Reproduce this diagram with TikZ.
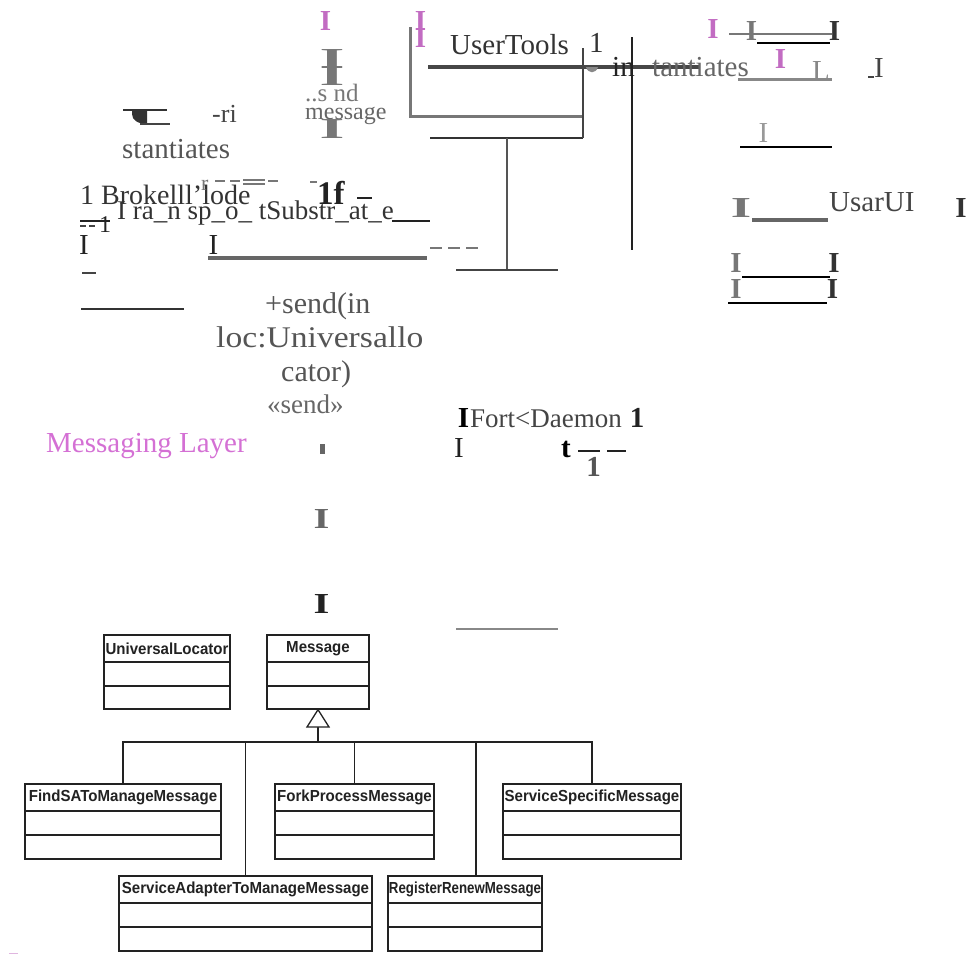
\documentclass[tikz,border=0pt]{standalone}
\usepackage{fontspec}
\setmainfont{Liberation Serif}
\newfontfamily\umlfont{Liberation Sans}
\definecolor{pinkA}{HTML}{C26CC2}
\definecolor{pinkB}{HTML}{D470D4}
\definecolor{cdd}{HTML}{222222}
\definecolor{cd3}{HTML}{333333}
\definecolor{cd4}{HTML}{444444}
\definecolor{cd5}{HTML}{555555}
\definecolor{cd6}{HTML}{666666}
\definecolor{cd7}{HTML}{777777}
\definecolor{cd8}{HTML}{888888}
\definecolor{cd9}{HTML}{999999}
\tikzset{
  tx/.style={inner sep=0pt, anchor=base west, font=\fontsize{29}{30}\selectfont},
  bI/.style={inner sep=0pt, anchor=base, font=\fontsize{29}{30}\selectfont\bfseries},
  rI/.style={inner sep=0pt, anchor=base, font=\fontsize{29}{30}\selectfont},
  umlcls/.style={draw=cdd, line width=1.3pt, inner sep=0pt, fill=white},
  umltitle/.style={inner sep=0pt, font=\umlfont\fontsize{16}{16}\selectfont\bfseries, text=cdd},
  umlline/.style={draw=cdd, line width=1.3pt},
  thinl/.style={line width=1.5pt},
}
\newcommand{\umlbox}[7][0.94]{%
  \pgfmathsetmacro{\bw}{#5-#3}%
  \pgfmathsetmacro{\bh}{#6-#4}%
  \node[umlcls, minimum width=\bw pt, minimum height=\bh pt] (#2) at ({(#3+#5)/2},{(#4+#6)/2}) {};
  \node[umltitle, xscale=#1] (#2-t) at ({(#3+#5)/2},{#4+13.5}) {#7};
  \draw[umlline] (#3,#4+27) -- (#5,#4+27);
  \draw[umlline] (#3,#4+51) -- (#5,#4+51);
}
\begin{document}
\begin{tikzpicture}[x=1pt,y=-1pt]
\useasboundingbox (0,0) rectangle (973,954);

% ---------- upper region: lines ----------
\draw[cd7, line width=3pt] (410,27) -- (410,116.5) -- (583,116.5);
\draw[cd3, thinl] (430,138) -- (583,138);
\draw[cd4, thinl] (583,48) -- (583,138);
\draw[cd3!90, line width=4pt] (428,67) -- (700,67);
\draw[cd5, thinl] (507,138) -- (507,270);
\draw[cd4, thinl] (456,270) -- (558,270);
\draw[cdd, thinl] (632,37) -- (632,250);
\draw[cd6, line width=4pt] (208,258) -- (427,258);
\draw[cd7, line width=2pt, dash pattern=on 12pt off 6pt] (430,248) -- (483,248);
\draw[cdd, thinl] (392,221) -- (430,221);
\draw[cd3, thinl] (81,309) -- (184,309);
\draw[cd4, thinl] (82,273) -- (96,273);
\draw[cd7, thinl] (729,34) -- (832,34);
\draw[black, line width=2pt] (757,43) -- (830,43);
\draw[cd8, line width=3pt] (738,79) -- (832,79);
\draw[black, line width=2pt] (740,147) -- (832,147);
\draw[cd6, line width=4pt] (752,220) -- (828,220);
\draw[black, line width=2pt] (742,277) -- (830,277);
\draw[black, line width=2pt] (728,303) -- (827,303);
\draw[cd8, line width=2pt] (456,629) -- (558,629);
% fragments near "Transport"
\draw[cd7, thinl] (215,181) -- (225,181) (230,181) -- (240,181) (243,180) -- (265,180) (243,184) -- (265,184) (268,181) -- (278,181) (310,182) -- (317,182);
\draw[cdd, thinl] (357,198) -- (372,198);
\draw[cdd, thinl] (80,221) -- (110,221);
\draw[cd4, thinl] (80,226) -- (86,226) (89,226) -- (95,226);
% arrow-like blob
\fill[cd3] (132,110) -- (147,110) -- (147,124) .. controls (138,124) and (132,120) .. (132,114) -- cycle;
\draw[cd3, thinl] (123,110) -- (167,110);
\draw[cd4, thinl] (140,124) -- (170,124);
% small semicircle
\fill[cd8] (586,67) .. controls (588,74) and (596,74) .. (598,67) -- cycle;
% small gray mark
\fill[cd6] (320,444) rectangle (325,454);
% dashes by Fort<Daemon
\draw[cdd, line width=2pt] (578,451) -- (600,451) (607,451) -- (626,451);
% tiny pink mark
\draw[pinkA!50, line width=1pt] (9,953) -- (18,953);

% ---------- upper region: texts ----------
\node[tx, text=cd3] (usertools) at (450,54) {UserTools};
\node[tx, text=cd3] (one1) at (589,52) {1};
\node[tx, text=cdd] (inA) at (612,76) {in};
\node[tx, text=cd6] (tant) at (652,76) {tantiates};
\node[tx, text=cd4, font=\fontsize{26}{28}\selectfont] (ri) at (212,122) {-ri};
\node[tx, text=cd5] (stant) at (122,158) {stantiates};
\node[tx, text=cd7, font=\fontsize{25}{26}\selectfont] (snd) at (305,101) {..s nd};
\node[tx, text=cd6, font=\fontsize{24}{26}\selectfont] (msg) at (305,119) {message};
\node[tx, text=cd3, font=\fontsize{28}{29}\selectfont] (broke) at (80,204) {1 Brokelll'lode};
\node[tx, text=cd7, font=\fontsize{22}{24}\selectfont] (rr) at (201,190) {r};
\node[tx, text=cdd, font=\fontsize{33}{34}\selectfont\bfseries] (onef) at (317,204) {1f};
\node[tx, text=cd3, font=\fontsize{27}{28}\selectfont] (trans) at (117,219) {I ra\_n sp\_o\_ tSubstr\_at\_e};
\node[tx, text=cdd, font=\fontsize{24}{26}\selectfont] (dd1) at (99,232) {1};
\node[rI, text=cdd] (ia) at (84,254) {I};
\node[rI, text=cdd] (ib) at (213.5,254) {I};
\node[tx, text=cd5, font=\fontsize{30}{32}\selectfont] (send1) at (265,313) {+send(in};
\node[tx, text=cd5, font=\fontsize{30}{32}\selectfont, xscale=1.12] (send2) at (216,347) {loc:Universallo};
\node[tx, text=cd5, font=\fontsize{30}{32}\selectfont] (send3) at (281,381) {cator)};
\node[tx, text=cd6, font=\fontsize{27}{28}\selectfont] (send4) at (267,413) {«send»};
\node[tx, text=pinkB] (msglayer) at (46,452) {Messaging Layer};
\node[bI, text=black] (fi) at (463.5,427) {I};
\node[tx, text=cd4, font=\fontsize{27}{28}\selectfont] (fort) at (470,427) {Fort<Daemon};
\node[bI, text=cdd] (f1) at (637,427) {1};
\node[rI, text=cdd] (fI2) at (459,457) {I};
\node[bI, text=black] (ft) at (566,457) {t};
\node[bI, text=cd5] (f1b) at (593.5,476) {1};
\node[tx, text=cd4] (usarui) at (829,211) {UsarUI};

% glyph-like I marks
\node[bI, text=pinkA] (p1) at (325.5,30) {I};
\node[bI, text=pinkA] (p2a) at (420.5,30) {I};
\node[bI, text=pinkA] (p2b) at (420.5,47) {I};
\node[bI, text=cd7, xscale=2.2] (g1a) at (332,68) {I};
\node[bI, text=cd7, xscale=2.2] (g1b) at (332,85) {I};
\node[bI, text=cd7, xscale=2.2] (g2) at (332,138) {I};
\node[bI, text=pinkA] (p3) at (713,38) {I};
\node[bI, text=cd7] (g3) at (751.5,40) {I};
\node[bI, text=cd3] (k3) at (834.5,40) {I};
\node[bI, text=pinkA] (p4) at (780.5,68) {I};
\node[rI, text=cd8] (gL) at (821,80) {L};
\node[rI, text=cd4] (uI) at (879,77) {I};
\draw[cd4, thinl] (868,77) -- (874,77);
\node[rI, text=cd9] (g4) at (763.5,142) {I};
\node[bI, text=cd7, xscale=1.8] (g5) at (741,217) {I};
\node[bI, text=cd3] (k5) at (961,217) {I};
\node[bI, text=cd7] (g6) at (736,272) {I};
\node[bI, text=cd3] (k6) at (834,272) {I};
\node[bI, text=cd7] (g7) at (736,298) {I};
\node[bI, text=cd3] (k7) at (832.5,298) {I};
\node[bI, text=cd6, xscale=1.4] (g8) at (321.5,528) {I};
\node[bI, text=cdd, xscale=1.4] (k8) at (321.5,613) {I};

% ---------- lower region: UML ----------
\umlbox{UL}{104}{635}{230}{709}{UniversalLocator}
\umlbox{MSG}{267}{635}{369}{709}{Message}
\umlbox{FSA}{25}{784}{221}{859}{FindSAToManageMessage}
\umlbox{FPM}{275}{784}{434}{859}{ForkProcessMessage}
\umlbox{SSM}{503}{784}{681}{859}{ServiceSpecificMessage}
\umlbox{SAM}{119}{876}{372}{951}{ServiceAdapterToManageMessage}
\umlbox[0.83]{RRM}{388}{876}{542}{951}{RegisterRenewMessage}

\coordinate (tri) at (318,727);
\coordinate (bus) at (318,742);
\draw[cdd, line width=2pt] (tri) -- (bus);
\draw[cdd, line width=1.3pt, fill=white] (MSG.south) -- (307,727) -- (329,727) -- cycle;
\draw[cdd, line width=1.3pt] (FSA.north) |- (bus);
\draw[cdd, line width=1.3pt] (SAM.north) |- (bus);
\draw[cdd, line width=1.3pt] (FPM.north) |- (bus);
\draw[cdd, line width=1.3pt] ([xshift=11pt]RRM.north) |- (bus);
\draw[cdd, line width=1.3pt] (SSM.north) |- (bus);
\end{tikzpicture}
\end{document}
